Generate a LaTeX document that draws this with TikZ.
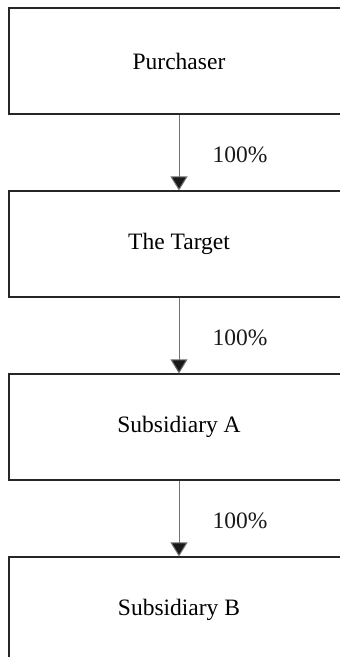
\documentclass[tikz,border=0pt]{standalone}
\usepackage{fontspec}
\setmainfont{Liberation Serif}
\usetikzlibrary{arrows.meta}
\begin{document}
\begin{tikzpicture}[x=1pt,y=1pt,
  entity/.style={draw=black!85, line width=1.1pt, rectangle, minimum width=340pt, minimum height=106pt, inner sep=0pt, font=\fontsize{23.5}{28}\selectfont},
  own/.style={draw=black!55, line width=1pt, -{Triangle[width=17pt,length=14pt,fill=black!90]}},
  pct/.style={font=\fontsize{23.5}{28}\selectfont, text=black!90}]
\useasboundingbox (0,0) rectangle (340,-657);
\clip (0,0) rectangle (340,-657);
\node[entity] (p) at (179,-61) {Purchaser};
\node[entity] (t) at (179,-244) {The Target};
\node[entity] (a) at (179,-427) {Subsidiary A};
\node[entity] (b) at (179,-610) {Subsidiary B};
\draw[own] (p) -- (t);
\draw[own] (t) -- (a);
\draw[own] (a) -- (b);
\node[pct] (l1) at (240,-155) {100\%};
\node[pct] (l2) at (240,-338) {100\%};
\node[pct] (l3) at (240,-521) {100\%};
\end{tikzpicture}
\end{document}
